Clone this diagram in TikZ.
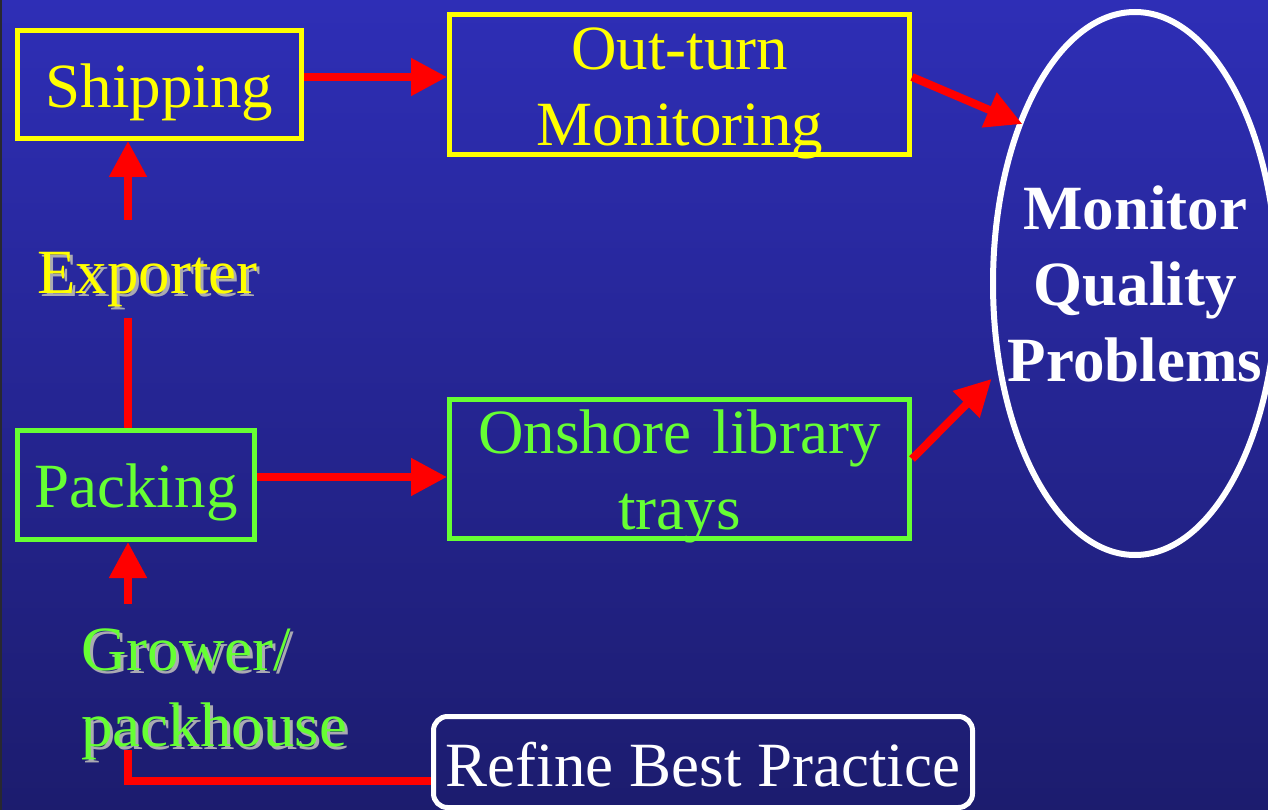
\documentclass[tikz,border=0pt]{standalone}
\usepackage{fontspec}
\setmainfont{Liberation Serif}
\usetikzlibrary{arrows.meta,shapes.geometric}

\definecolor{bgTop}{RGB}{46,46,182}
\definecolor{bgMid}{RGB}{51,51,200}
\definecolor{bgBot}{RGB}{28,28,110}
\definecolor{darkEdge}{RGB}{40,40,48}
\definecolor{boxYellow}{RGB}{255,255,0}
\definecolor{boxGreen}{RGB}{102,255,51}
\definecolor{shadowGray}{RGB}{170,170,178}
\definecolor{linkRed}{RGB}{255,0,0}

\tikzset{
  bigtext/.style={font=\fontsize{63}{76}\selectfont},
  stagebox/.style={draw, line width=5pt, inner sep=0pt, bigtext, align=center, text depth=0pt},
  yellowbox/.style={stagebox, draw=boxYellow, text=boxYellow},
  greenbox/.style={stagebox, draw=boxGreen, text=boxGreen},
  actorshadow/.style={bigtext, inner sep=0pt, text=shadowGray},
  flow/.style={draw=linkRed, line width=8pt, -{Triangle[length=36pt,width=36pt]}},
  link/.style={draw=linkRed, line width=8pt},
}

\begin{document}
\begin{tikzpicture}[x=1pt,y=-1pt]
  % slide background
  \useasboundingbox (0,0) rectangle (1268,810);
  \shade[top color=bgTop, middle color=bgMid, bottom color=bgBot] (0,0) rectangle (1268,810);
  \fill[darkEdge] (0,0) rectangle (2,810);

  % supply chain stages
  \node[yellowbox, minimum width=284pt, minimum height=108pt, text height=47pt] (shipping) at (159.5,84.5) {Shipping};
  \node[yellowbox, minimum width=460pt, minimum height=140pt, text width=440pt, text height=0pt, text depth=29pt] (outturn) at (679.5,84.5) {Out-turn\\Monitoring};
  \node[greenbox, minimum width=237pt, minimum height=109pt, text height=44pt] (packing) at (136,485) {Packing};
  \node[greenbox, minimum width=460pt, minimum height=139pt, text width=440pt, text height=0pt, text depth=32pt] (onshore) at (679.5,469) {Onshore library\\trays};
  \node[stagebox, draw=white, text=white, rounded corners=14pt, minimum width=539pt, minimum height=91pt, text height=48pt] (refine) at (703,762) {Refine Best Practice};

  % outcome
  \node[ellipse, draw=white, line width=6pt, minimum width=284pt, minimum height=543pt, inner sep=0pt] (quality) at (1135,283.5) {};
  \node[font=\fontsize{63}{76}\selectfont\bfseries, text=white, align=center, text width=280pt, text height=0pt, text depth=107pt, inner sep=0pt] (qualityText) at (quality.center) {Monitor\\Quality\\Problems};

  % actors, set with a soft drop shadow
  \node[actorshadow, anchor=base] (exporterShadow) at (150.5,296) {Exporter};
  \node[bigtext, inner sep=0pt, text=boxYellow, anchor=base] (exporter) at (147.5,293) {Exporter};
  \node[actorshadow, anchor=base west, text width=320pt, align=left] (growerShadow) at (84,673) {Grower/\\packhouse};
  \node[bigtext, inner sep=0pt, text=boxGreen, anchor=base west, text width=320pt, align=left] (grower) at (81,670) {Grower/\\packhouse};

  % connector ends beside the actor labels
  \coordinate (exportUp) at (128,220);
  \coordinate (exportDown) at (128,318);
  \coordinate (growerUp) at (128,604);
  \coordinate (growerDown) at (128,750);

  % flows
  \draw[flow] (exportUp) -- (shipping.south -| exportUp);
  \draw[link] (packing.north -| exportDown) -- (exportDown);
  \draw[flow] (growerUp) -- (packing.south -| growerUp);
  \draw[flow] (shipping.east |- 0,77) -- (outturn.west |- 0,77);
  \draw[flow] (packing.east |- 0,477) -- (onshore.west |- 0,477);
  \draw[flow, shorten >=-5pt] (outturn.east |- 0,77) -- (quality.126);
  \draw[flow, shorten >=9pt] (onshore.east |- 0,459) -- (quality.213);
  \draw[link] (refine.west |- 0,781) -| (growerDown);
\end{tikzpicture}
\end{document}
